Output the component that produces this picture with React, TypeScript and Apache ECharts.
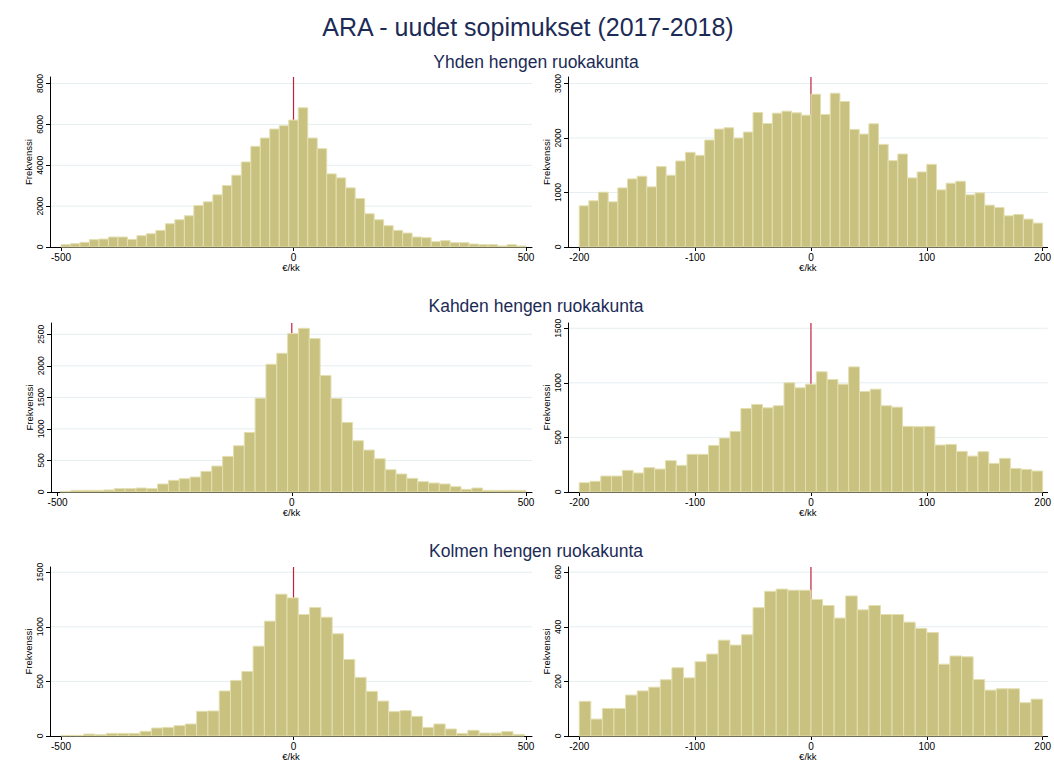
import React, { useEffect, useRef } from 'react';
import * as echarts from 'echarts';

const FONT = '"Liberation Sans", Arial, Helvetica, sans-serif';
const TITLE = 'ARA - uudet sopimukset (2017-2018)';
const SUBTITLES = ['Yhden hengen ruokakunta', 'Kahden hengen ruokakunta', 'Kolmen hengen ruokakunta'];
const Y_NAME = 'Frekvenssi';
const X_NAME = '€/kk';

// x tick labels
const wideTicks = [-500, 0, 500];
const narrowTicks = [-200, -100, 0, 100, 200];

// y tick labels per panel
const p1YTicks = [0, 2000, 4000, 6000, 8000];
const p2YTicks = [0, 1000, 2000, 3000];
const p3YTicks = [0, 500, 1000, 1500, 2000, 2500];
const p4YTicks = [0, 500, 1000, 1500];
const p5YTicks = [0, 500, 1000, 1500];
const p6YTicks = [0, 200, 400, 600];

// histogram bin ranges [first edge, last edge]
const p1BinRange = [-500, 500];
const p2BinRange = [-200, 200];
const p3BinRange = [-494.6, 500];
const p4BinRange = [-200, 200];
const p5BinRange = [-500, 496.3];
const p6BinRange = [-200, 200];

// frequencies (counts per bin, left to right)
const p1Counts = [114, 163, 228, 358, 390, 488, 488, 374, 553, 650, 813, 1138, 1333, 1528, 2033, 2211, 2553, 3008, 3512, 4163, 4927, 5333, 5772, 5935, 6211, 6813, 5333, 4813, 3577, 3382, 2894, 2374, 1626, 1333, 1041, 813, 683, 488, 455, 260, 309, 211, 211, 146, 114, 114, 49, 114, 49];
const p2Counts = [756, 848, 1006, 829, 1085, 1250, 1299, 1104, 1476, 1317, 1579, 1738, 1683, 1963, 2165, 2189, 2000, 2110, 2470, 2268, 2457, 2494, 2463, 2421, 2805, 2433, 2823, 2671, 2159, 2073, 2262, 1884, 1585, 1707, 1268, 1378, 1518, 1049, 1171, 1207, 957, 994, 768, 726, 573, 598, 512, 439];
const p3Counts = [11, 26, 26, 26, 32, 53, 53, 63, 53, 127, 185, 211, 237, 327, 411, 564, 733, 944, 1487, 2025, 2199, 2511, 2595, 2432, 1846, 1482, 1102, 812, 665, 527, 353, 285, 216, 164, 142, 127, 84, 42, 63, 26, 26, 26, 26];
const p4Counts = [85, 98, 146, 146, 198, 174, 223, 210, 287, 244, 345, 345, 427, 494, 555, 765, 802, 771, 790, 1000, 954, 988, 1101, 1030, 988, 1146, 921, 942, 790, 777, 601, 598, 601, 430, 436, 372, 329, 369, 262, 308, 216, 207, 192];
const p5Counts = [6, 6, 18, 12, 24, 24, 24, 43, 73, 79, 95, 110, 226, 229, 412, 509, 591, 823, 1052, 1299, 1265, 1113, 1177, 1088, 936, 701, 537, 409, 320, 223, 232, 180, 79, 110, 64, 24, 52, 27, 27, 40, 15];
const p6Counts = [127, 62, 101, 101, 150, 165, 179, 206, 250, 213, 272, 300, 351, 333, 371, 470, 530, 538, 534, 534, 500, 478, 432, 513, 462, 478, 445, 445, 417, 394, 379, 263, 293, 290, 207, 168, 173, 173, 122, 135];

const BAR_FILL = '#c9c17f';
const BAR_STROKE = '#e3dfb0';
const REF_COLOR = '#c0213f';
const GRID_COLOR = '#e5eef0';
const TEXT_NAVY = '#1c2b56';

type Panel = {
  counts: number[];
  binRange: number[];
  xTicks: number[];
  yTicks: number[];
  xMin: number;
  xMax: number;
  yMax: number;
  grid: { left: number; top: number; width: number; height: number };
};

const panels: Panel[] = [
  { counts: p1Counts, binRange: p1BinRange, xTicks: wideTicks, yTicks: p1YTicks, xMin: -523.7, xMax: 512.9, yMax: 8320, grid: { left: 50, top: 77, width: 482, height: 170 } },
  { counts: p2Counts, binRange: p2BinRange, xTicks: narrowTicks, yTicks: p2YTicks, xMin: -209.7, xMax: 204.3, yMax: 3121, grid: { left: 568, top: 77, width: 481, height: 170 } },
  { counts: p3Counts, binRange: p3BinRange, xTicks: wideTicks, yTicks: p3YTicks, xMin: -514, xMax: 512.8, yMax: 2679, grid: { left: 51, top: 323, width: 481, height: 169 } },
  { counts: p4Counts, binRange: p4BinRange, xTicks: narrowTicks, yTicks: p4YTicks, xMin: -209.7, xMax: 204.3, yMax: 1548, grid: { left: 568, top: 323, width: 481, height: 169 } },
  { counts: p5Counts, binRange: p5BinRange, xTicks: wideTicks, yTicks: p5YTicks, xMin: -523.7, xMax: 512.9, yMax: 1548, grid: { left: 50, top: 567, width: 482, height: 169 } },
  { counts: p6Counts, binRange: p6BinRange, xTicks: narrowTicks, yTicks: p6YTicks, xMin: -209.7, xMax: 204.3, yMax: 619, grid: { left: 568, top: 567, width: 481, height: 169 } },
];

function binData(counts: number[], range: number[]) {
  const w = (range[1] - range[0]) / counts.length;
  return counts.map((c, k) => [range[0] + k * w, range[0] + (k + 1) * w, c]);
}

const plain = (v: number) => String(v);

function buildOption() {
  const grids: any[] = [];
  const xAxes: any[] = [];
  const yAxes: any[] = [];
  const series: any[] = [];
  panels.forEach((p, i) => {
    grids.push({ ...p.grid, containLabel: false });
    xAxes.push({
      gridIndex: i,
      type: 'value',
      min: p.xMin,
      max: p.xMax,
      axisLine: { show: true, onZero: false, lineStyle: { color: '#000', width: 1 } },
      axisTick: { show: true, length: 4, customValues: p.xTicks, lineStyle: { color: '#000' } },
      axisLabel: { customValues: p.xTicks, formatter: plain, fontSize: 10, color: '#000', margin: 5, fontFamily: FONT },
      splitLine: { show: false },
      name: X_NAME,
      nameLocation: 'middle',
      nameGap: 15,
      nameTextStyle: { fontSize: 9.5, color: '#000', fontFamily: FONT },
    });
    yAxes.push({
      gridIndex: i,
      type: 'value',
      min: 0,
      max: p.yMax,
      axisLine: { show: true, onZero: false, lineStyle: { color: '#000', width: 1 } },
      axisTick: { show: true, length: 4, customValues: p.yTicks, lineStyle: { color: '#000' } },
      axisLabel: { customValues: p.yTicks, formatter: plain, rotate: 90, fontSize: 8.5, color: '#000', margin: 6, fontFamily: FONT },
      splitLine: { show: false },
      name: Y_NAME,
      nameLocation: 'middle',
      nameRotate: 90,
      nameGap: 17,
      nameTextStyle: { fontSize: 9.5, color: '#000', fontFamily: FONT },
    });
    // horizontal gridlines (behind everything)
    series.push({
      type: 'custom',
      xAxisIndex: i,
      yAxisIndex: i,
      z: 0,
      silent: true,
      encode: { y: 0 },
      data: p.yTicks.filter((v) => v > 0).map((v) => [v]),
      renderItem: (params: any, api: any) => {
        const v = api.value(0);
        const a = api.coord([p.xMin, v]);
        const b = api.coord([p.xMax, v]);
        return {
          type: 'line',
          shape: { x1: a[0], y1: a[1], x2: b[0], y2: b[1] },
          style: { stroke: GRID_COLOR, lineWidth: 1 },
        };
      },
    });
    // reference line at 0
    series.push({
      type: 'line',
      xAxisIndex: i,
      yAxisIndex: i,
      data: [[0, 0], [0, p.yMax]],
      symbol: 'none',
      silent: true,
      z: 1,
      lineStyle: { color: REF_COLOR, width: 1.2 },
    });
    // histogram bars
    series.push({
      type: 'custom',
      xAxisIndex: i,
      yAxisIndex: i,
      z: 3,
      encode: { x: [0, 1], y: 2 },
      data: binData(p.counts, p.binRange),
      renderItem: (params: any, api: any) => {
        const a = api.coord([api.value(0), api.value(2)]);
        const b = api.coord([api.value(1), 0]);
        return {
          type: 'rect',
          shape: { x: a[0], y: a[1], width: b[0] - a[0], height: b[1] - a[1] },
          style: { fill: BAR_FILL, stroke: BAR_STROKE, lineWidth: 1 },
        };
      },
    });
  });

  const graphic: any[] = [
    { type: 'text', x: 528, y: 27, style: { text: TITLE, fontSize: 25, fontFamily: FONT, fill: TEXT_NAVY, align: 'center', verticalAlign: 'middle' } },
    { type: 'text', x: 536, y: 62, style: { text: SUBTITLES[0], fontSize: 17.5, fontFamily: FONT, fill: TEXT_NAVY, align: 'center', verticalAlign: 'middle' } },
    { type: 'text', x: 536, y: 306, style: { text: SUBTITLES[1], fontSize: 17.5, fontFamily: FONT, fill: TEXT_NAVY, align: 'center', verticalAlign: 'middle' } },
    { type: 'text', x: 536, y: 551, style: { text: SUBTITLES[2], fontSize: 17.5, fontFamily: FONT, fill: TEXT_NAVY, align: 'center', verticalAlign: 'middle' } },
  ];

  return {
    animation: false,
    backgroundColor: '#ffffff',
    textStyle: { fontFamily: FONT },
    grid: grids,
    xAxis: xAxes,
    yAxis: yAxes,
    series,
    graphic,
  };
}

export default function App() {
  const ref = useRef<HTMLDivElement>(null);
  useEffect(() => {
    if (!ref.current) return;
    const chart = echarts.init(ref.current, undefined, { renderer: 'svg' });
    chart.setOption(buildOption() as any);
    return () => chart.dispose();
  }, []);
  return (
    <div
      ref={ref}
      style={{ position: 'absolute', left: 0, top: 0, width: 1054, height: 769, background: '#fff' }}
    />
  );
}
